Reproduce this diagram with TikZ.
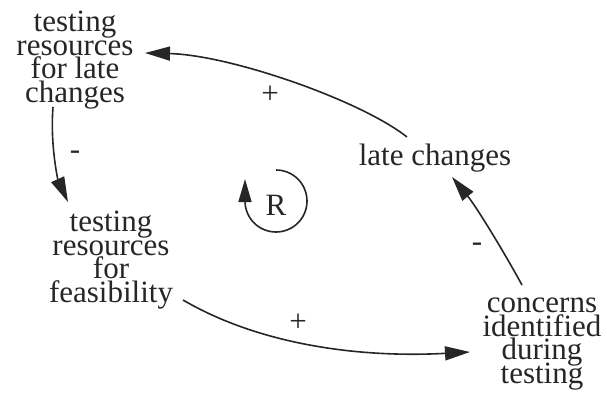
\documentclass[tikz,border=0pt]{standalone}
\usepackage{fontspec}
\newfontfamily\timesfam{LiberationSerif}[Extension=.ttf,UprightFont=*-Regular]
\usetikzlibrary{arrows.meta,calc}
\definecolor{ink}{RGB}{38,38,38}
\setlength{\lineskiplimit}{-100pt}
\newcommand\nodefont{\timesfam\fontsize{31}{23.5}\selectfont}
\begin{document}
\begin{tikzpicture}[x=1pt,y=-1pt,
  txt/.style={inner sep=0pt,align=center,text=ink,font=\nodefont},
  lbl/.style={inner sep=0pt,text=ink,font=\nodefont},
  link/.style={draw=ink,line width=1.6pt,-{Triangle[length=25pt,width=14pt]}}]
\useasboundingbox (0,0) rectangle (607,396);
\node[txt] (A) at (75,60) {testing\\resources\\for late\\changes};
\node[txt] (B) at (111,260) {testing\\resources\\for\\feasibility};
\node[txt] (C) at (435,158) {late changes};
\node[txt] (D) at (542,344) {concerns\\identified\\during\\testing};
\node[lbl] (R) at (276,205) {R};
\node[lbl] (p1) at (270,95) {+};
\node[lbl] (m1) at (75,155) {-};
\node[lbl] (p2) at (298,323) {+};
\node[lbl] (m2) at (477,247) {-};
\draw[link] ($(C)+(-28,-21)$) .. controls ($(C)+(-75,-58)$) and ($(A)+(155,-5)$) .. ($(A)+(70,-7)$);
\draw[link] ($(A)+(-22,47)$) .. controls ($(A)+(-25,85)$) and ($(B)+(-53,-80)$) .. ($(B)+(-43,-58)$);
\draw[link] ($(B)+(72,40)$) .. controls ($(B)+(149,85)$) and ($(D)+(-182,14)$) .. ($(D)+(-72,8)$);
\draw[link] ($(D)+(-20,-59)$) .. controls ($(D)+(-42,-99)$) and ($(C)+(40,47)$) .. ($(C)+(17,19)$);
\draw[draw=ink,line width=1.6pt,-{Triangle[length=23pt,width=13pt]}]
  ($(R)+(0,-35)$) arc[start angle=90,end angle=-180,radius=31pt] -- ++(0,-22);
\end{tikzpicture}
\end{document}
